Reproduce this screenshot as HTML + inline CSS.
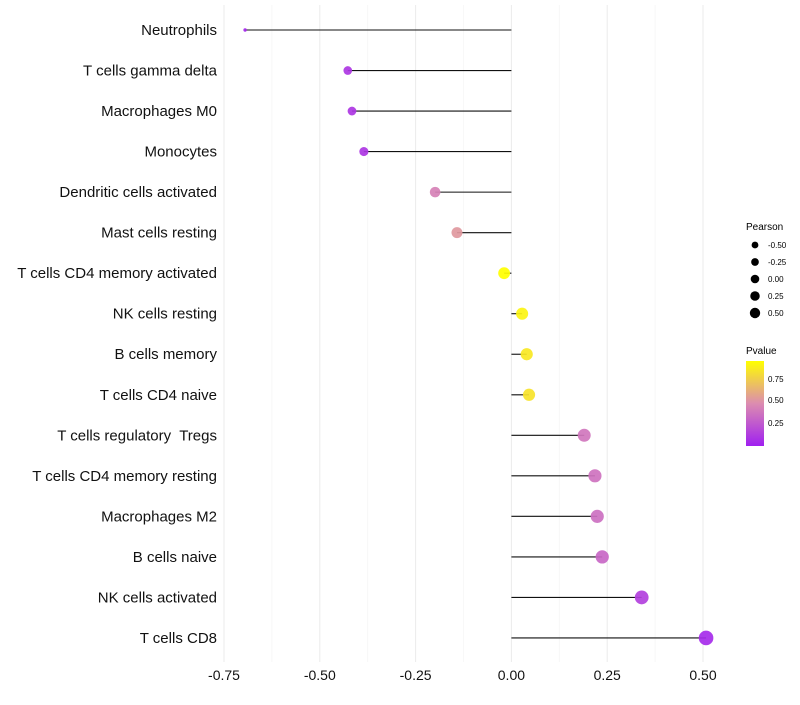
<!DOCTYPE html>
<html><head><meta charset="utf-8"><style>
body{margin:0;background:#fff;font-family:"Liberation Sans",Arial,sans-serif}
text{white-space:pre}
</style></head><body>
<svg width="800" height="700" xmlns="http://www.w3.org/2000/svg" font-family="Liberation Sans, Arial, sans-serif">
<g id="grid"></g>
<g id="marks"></g>
<g id="labels"></g>
<g id="ticks"></g>
<g id="sizeLegend">
<text x="746" y="230" font-size="10">Pearson</text>
</g>
<g>
<defs><linearGradient id="pg" x1="0" y1="1" x2="0" y2="0">
<stop offset="0" stop-color="#a020f0"/><stop offset="0.5" stop-color="#dc8cb0"/><stop offset="1" stop-color="#ffff00"/></linearGradient></defs>
<text x="746" y="354" font-size="10">Pvalue</text>
<rect x="746" y="361" width="18" height="85" fill="url(#pg)"/>
<text x="768" y="382" font-size="8">0.75</text>
<text x="768" y="403" font-size="8">0.50</text>
<text x="768" y="426" font-size="8">0.25</text>
</g>
</svg>
<script>
const categories=["Neutrophils","T cells gamma delta","Macrophages M0","Monocytes","Dendritic cells activated","Mast cells resting","T cells CD4 memory activated","NK cells resting","B cells memory","T cells CD4 naive","T cells regulatory  Tregs","T cells CD4 memory resting","Macrophages M2","B cells naive","NK cells activated","T cells CD8"];
const pearson=[-0.695,-0.427,-0.416,-0.385,-0.199,-0.142,-0.019,0.028,0.04,0.046,0.19,0.218,0.224,0.237,0.34,0.508];
const pvalues=[0.03,0.1,0.1,0.1,0.45,0.55,1.0,0.95,0.9,0.88,0.4,0.38,0.37,0.33,0.15,0.05];
const xTicks=[-0.75,-0.5,-0.25,0,0.25,0.5];
const xTickLabels=["-0.75","-0.50","-0.25","0.00","0.25","0.50"];
const sizeLegendValues=[-0.5,-0.25,0,0.25,0.5];
const sizeLegendLabels=["-0.50","-0.25","0.00","0.25","0.50"];
const NS="http://www.w3.org/2000/svg";
const x=v=>511.4+v*383.2;
const y=i=>30+i*40.53;
const pmin=Math.min(...pearson),pmax=Math.max(...pearson);
const r=v=>1.7+5.6*Math.sqrt(Math.max(0,(v-pmin)/(pmax-pmin)));
function lerp(a,b,t){return Math.round(a+(b-a)*t);}
function col(p){const s=[[160,32,240],[220,140,176],[255,255,0]];let t=p*2,a=s[0],b=s[1];if(p>0.5){t=(p-0.5)*2;a=s[1];b=s[2];}
return `rgb(${lerp(a[0],b[0],t)},${lerp(a[1],b[1],t)},${lerp(a[2],b[2],t)})`;}
function mk(tag,at,parent){const e=document.createElementNS(NS,tag);for(const k in at)e.setAttribute(k,at[k]);parent.appendChild(e);return e;}
const grid=document.getElementById('grid'),marks=document.getElementById('marks'),labels=document.getElementById('labels'),ticks=document.getElementById('ticks');
for(let v=-0.75;v<=0.51;v+=0.125){const major=Math.abs((v/0.25)-Math.round(v/0.25))<0.01;
const l=mk('line',{x1:x(v),x2:x(v),y1:5,y2:662,stroke:major?'#ebebeb':'#f5f5f5','stroke-width':major?1:0.7},grid);

}
xTicks.forEach((v,i)=>{const t=mk('text',{x:x(v),y:680,'font-size':14,'text-anchor':'middle',fill:'#111'},ticks);t.textContent=xTickLabels[i];

});
categories.forEach((c,i)=>{
const t=mk('text',{x:217,y:y(i)+5,'font-size':15,'text-anchor':'end',fill:'#111'},labels);t.textContent=c;


const ln=mk('line',{x1:x(0),x2:x(pearson[i]),y1:y(i),y2:y(i),stroke:'#111','stroke-width':1.1},marks);


const d=mk('circle',{cx:x(pearson[i]),cy:y(i),r:r(pearson[i]),fill:col(pvalues[i]),'fill-opacity':0.92},marks);

});
const sl=document.getElementById('sizeLegend');
sizeLegendValues.forEach((v,i)=>{const cy=245+i*17;
const c=mk('circle',{cx:755,cy:cy,r:3.4+(v+0.5)*1.8,fill:'#000'},sl);


const t=mk('text',{x:768,y:cy+3,'font-size':8},sl);t.textContent=sizeLegendLabels[i];

});
</script>
</body></html>
